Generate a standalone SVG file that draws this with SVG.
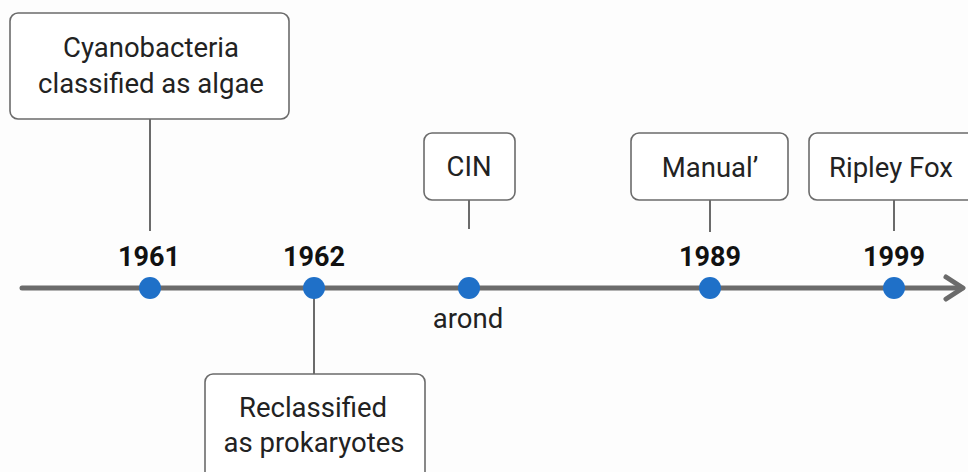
<svg xmlns="http://www.w3.org/2000/svg" width="968" height="472" viewBox="0 0 968 472">
<defs>
<style>
.box{fill:#fff;stroke:#6b6b6b;stroke-width:1.6}
.lbl{font-family:Roboto,"Liberation Sans",sans-serif;font-size:27.5px;fill:#222;text-anchor:middle}
.yr{font-family:Roboto,"Liberation Sans",sans-serif;font-size:27px;font-weight:bold;fill:#111;text-anchor:middle}
.stem{stroke:#6b6b6b;stroke-width:2;fill:none}
.dot{fill:#1f70c8}
</style>
</defs>
<rect width="968" height="472" fill="#fdfdfd"/>
<g id="connectors">
<line x1="22" y1="288" x2="962" y2="288" stroke="#6b6b6b" stroke-width="5" stroke-linecap="round"/>
<polyline points="946,277 963,288 946,299" fill="none" stroke="#6b6b6b" stroke-width="5" stroke-linecap="round" stroke-linejoin="round"/>
<line class="stem" x1="150" y1="119" x2="150" y2="231"/>
<line class="stem" x1="314" y1="288" x2="314" y2="374"/>
<line class="stem" x1="469" y1="200" x2="469" y2="229"/>
<line class="stem" x1="710" y1="200" x2="710" y2="232"/>
<line class="stem" x1="894" y1="200" x2="894" y2="231"/>
</g>
<g id="n1961">
<rect class="box" x="10" y="13" width="279" height="106" rx="8"/>
<text class="lbl" x="151" y="57">Cyanobacteria</text>
<text class="lbl" x="151" y="93">classified as algae</text>
<text class="yr" x="149" y="266">1961</text>
<circle class="dot" cx="150" cy="288" r="11"/>
</g>
<g id="n1962">
<rect class="box" x="205" y="374" width="220" height="110" rx="8"/>
<text class="lbl" x="313" y="417">Reclassified</text>
<text class="lbl" x="314" y="452">as prokaryotes</text>
<text class="yr" x="314" y="266">1962</text>
<circle class="dot" cx="314" cy="288" r="11"/>
</g>
<g id="nCIN">
<rect class="box" x="424" y="133" width="91" height="67" rx="8"/>
<text class="lbl" x="469" y="176">CIN</text>
<circle class="dot" cx="469" cy="288" r="11"/>
<text class="lbl" x="468" y="328">arond</text>
</g>
<g id="n1989">
<rect class="box" x="631" y="133" width="157" height="67" rx="8"/>
<text class="lbl" x="710" y="177">Manual’</text>
<text class="yr" x="710" y="266">1989</text>
<circle class="dot" cx="710" cy="288" r="11"/>
</g>
<g id="n1999">
<rect class="box" x="809" y="133" width="175" height="67" rx="8"/>
<text class="lbl" x="829" y="177" style="text-anchor:start">Ripley Fox</text>
<text class="yr" x="894" y="266">1999</text>
<circle class="dot" cx="894" cy="288" r="11"/>
</g>
</svg>
